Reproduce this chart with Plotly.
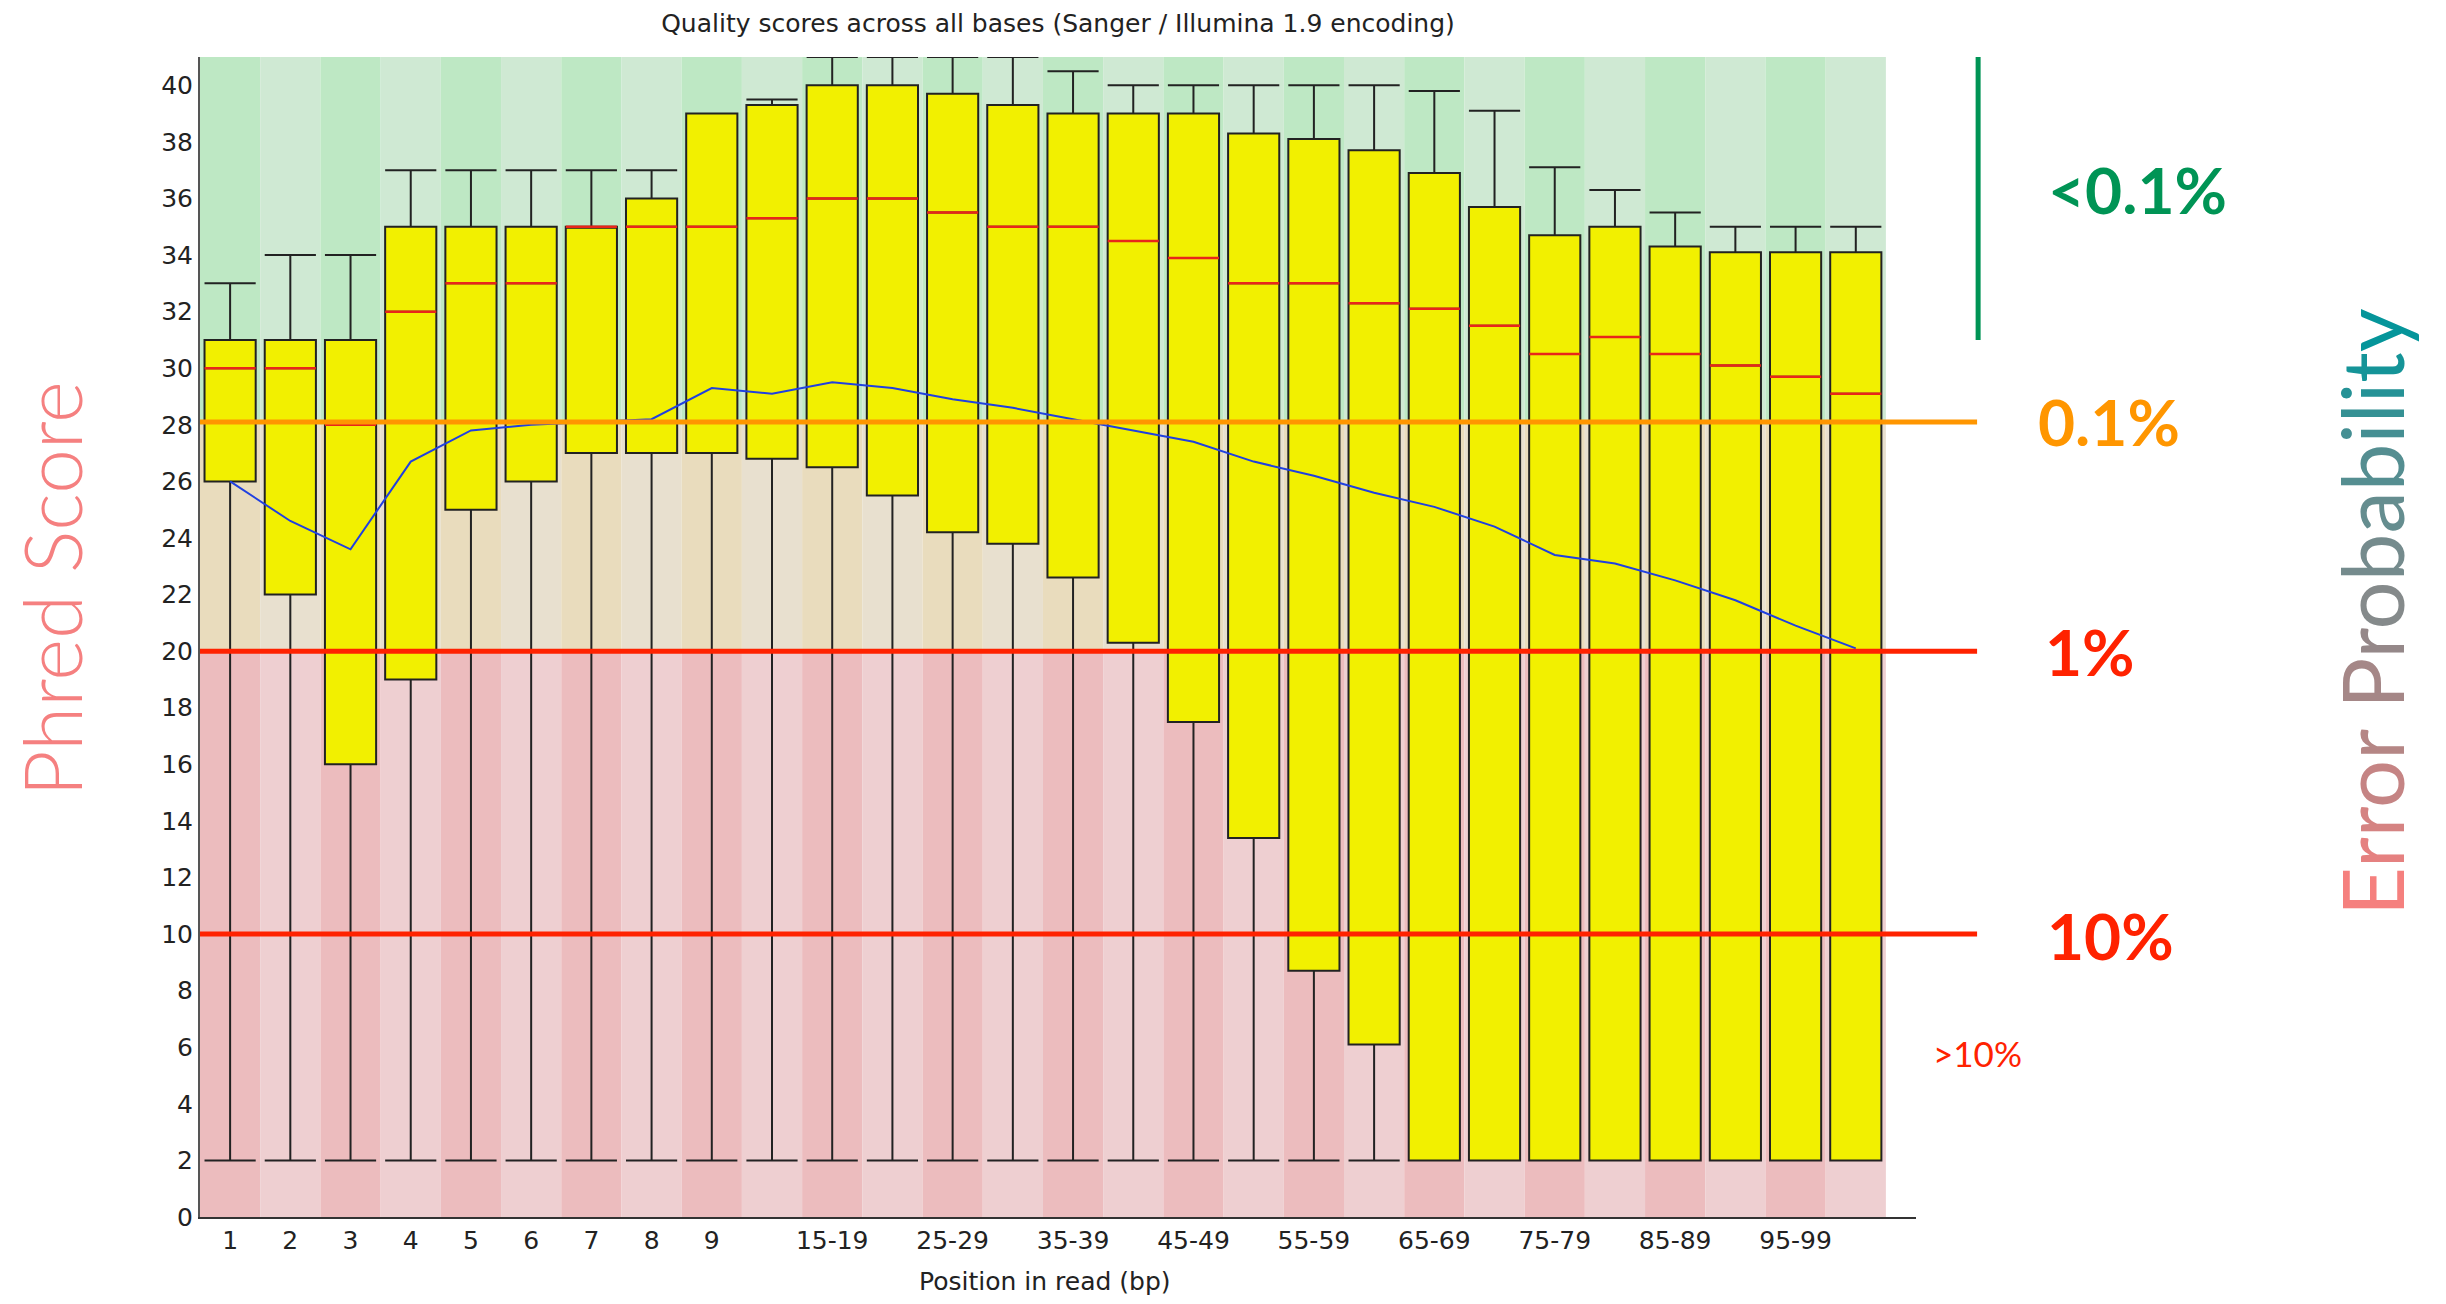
import plotly.graph_objects as go

# ---------------- data ----------------
positions = ["1", "2", "3", "4", "5", "6", "7", "8", "9", "10-14", "15-19", "20-24",
             "25-29", "30-34", "35-39", "40-44", "45-49", "50-54", "55-59", "60-64",
             "65-69", "70-74", "75-79", "80-84", "85-89", "90-94", "95-99", "100-101"]
shown_ticks = ["1", "2", "3", "4", "5", "6", "7", "8", "9", "15-19", "25-29", "35-39",
               "45-49", "55-59", "65-69", "75-79", "85-89", "95-99"]

upper_whisker = [33, 34, 34, 37, 37, 37, 37, 37, 39, 39.5, 41, 41, 41, 41,
                 40.5, 40, 40, 40, 40, 40, 39.8, 39.1, 37.1, 36.3, 35.5, 35, 35, 35]
upper_quartile = [31, 31, 31, 35, 35, 35, 35, 36, 39, 39.3, 40, 40, 39.7, 39.3,
                  39, 39, 39, 38.3, 38.1, 37.7, 36.9, 35.7, 34.7, 35, 34.3, 34.1, 34.1, 34.1]
median = [30, 30, 28, 32, 33, 33, 35, 35, 35, 35.3, 36, 36, 35.5, 35,
          35, 34.5, 33.9, 33, 33, 32.3, 32.1, 31.5, 30.5, 31.1, 30.5, 30.1, 29.7, 29.1]
lower_quartile = [26, 22, 16, 19, 25, 26, 27, 27, 27, 26.8, 26.5, 25.5, 24.2, 23.8,
                  22.6, 20.3, 17.5, 13.4, 8.7, 6.1, 2, 2, 2, 2, 2, 2, 2, 2]
lower_whisker = [2, 2, 2, 2, 2, 2, 2, 2, 2, 2, 2, 2, 2, 2,
                 2, 2, 2, 2, 2, 2, 2, 2, 2, 2, 2, 2, 2, 2]
mean_quality = [26.0, 24.6, 23.6, 26.7, 27.8, 28.0, 28.1, 28.2, 29.3, 29.1, 29.5, 29.3, 28.9, 28.6,
                28.2, 27.8, 27.4, 26.7, 26.2, 25.6, 25.1, 24.4, 23.4, 23.1, 22.5, 21.8, 20.9, 20.1]

zone_bounds = [0, 20, 28, 41]          # red / orange / green background zones
threshold_orange = 28.1
threshold_red = [20, 10]
error_labels = ["<0.1%", "0.1%", "1%", "10%", ">10%"]

# ---------------- styling ----------------
TICK_FONT = "DejaVu Sans, Liberation Sans, sans-serif"
BIG_FONT = "Lato, Open Sans, sans-serif"
zone_colors = [("#ECBCBE", "#EECFD1"), ("#E9DCBD", "#E8E0CF"), ("#BEE8C4", "#CFE9D3")]

fig = go.Figure()

# background alternating bands
for i in range(len(positions)):
    for z in range(3):
        fig.add_shape(type="rect", xref="x", yref="y",
                      x0=i - 0.5, x1=i + 0.5, y0=zone_bounds[z], y1=zone_bounds[z + 1],
                      fillcolor=zone_colors[z][i % 2], line=dict(width=0), layer="below")

fig.add_trace(go.Box(
    x=positions, q1=lower_quartile, median=median, q3=upper_quartile,
    lowerfence=lower_whisker, upperfence=upper_whisker,
    fillcolor="#F2F000", line=dict(color="#222222", width=2),
    width=0.85, whiskerwidth=1, boxpoints=False, showlegend=False, hoverinfo="skip"))

fig.add_trace(go.Scatter(
    x=positions, y=median, mode="markers", showlegend=False, hoverinfo="skip",
    marker=dict(symbol="line-ew", size=36.5, color="#E8261A",
                line=dict(color="#E8261A", width=2.5))))

fig.add_trace(go.Scatter(
    x=positions, y=mean_quality, mode="lines", showlegend=False, hoverinfo="skip",
    line=dict(color="#2040E0", width=2)))

# threshold lines
X_END = 1.0356
fig.add_shape(type="line", xref="paper", yref="y", x0=0, x1=X_END,
              y0=threshold_orange, y1=threshold_orange,
              line=dict(color="#FF9600", width=5))
for t in threshold_red:
    fig.add_shape(type="line", xref="paper", yref="y", x0=0, x1=X_END, y0=t, y1=t,
                  line=dict(color="#FF2200", width=5))
fig.add_shape(type="line", xref="paper", yref="y", x0=1.0362, x1=1.0362, y0=31, y1=41,
              line=dict(color="#009455", width=5))

# right-hand labels
label_specs = [
    (error_labels[0], 1.1288, 36.3, "#009455", 64, 700),
    (error_labels[1], 1.1125, 28.1, "#FF9600", 64, 700),
    (error_labels[2], 1.1014, 20.0, "#FF2200", 64, 700),
    (error_labels[3], 1.1136, 9.95, "#FF2200", 64, 700),
    (error_labels[4], 1.0360, 5.8, "#FF2200", 35, 400),
]
for txt, xp, yv, col, sz, wt in label_specs:
    fig.add_annotation(text=txt, xref="paper", yref="y", x=xp, y=yv,
                       xanchor="center", yanchor="middle", showarrow=False,
                       font=dict(family=BIG_FONT, size=sz, color=col, weight=wt))

# "Error Probability" with colour gradient
word = "Error Probability"
start, end = (245, 128, 126), (5, 149, 154)
letters = [c for c in word if c != " "]
n = len(letters) - 1
parts, k = [], 0
for c in word:
    if c == " ":
        parts.append(" ")
        continue
    t = k / n
    rgb = tuple(round(start[j] + (end[j] - start[j]) * t) for j in range(3))
    parts.append('<span style="color:rgb(%d,%d,%d)">%s</span>' % (rgb + (c,)))
    k += 1
fig.add_annotation(text="".join(parts), xref="paper", yref="paper", x=1.2652, y=0.5216,
                   xanchor="center", yanchor="middle", showarrow=False, textangle=-90,
                   font=dict(family=BIG_FONT, size=85, color="#888888"))

fig.add_annotation(text="Phred Score", xref="paper", yref="paper", x=-0.0868, y=0.541,
                   xanchor="center", yanchor="middle", showarrow=False, textangle=-90,
                   borderpad=0,
                   font=dict(family=BIG_FONT, size=80, color="#F58080", weight=300))

fig.add_annotation(text="Position in read (bp)", xref="paper", yref="paper", x=0.4924, y=-0.056,
                   xanchor="center", yanchor="middle", showarrow=False,
                   font=dict(family=TICK_FONT, size=25, color="#222222"))

fig.update_layout(
    width=2446, height=1304,
    margin=dict(l=200, r=530, t=57, b=87),
    paper_bgcolor="white", plot_bgcolor="white",
    title=dict(text="Quality scores across all bases (Sanger / Illumina 1.9 encoding)",
               xref="paper", x=0.5, xanchor="center", yref="container", y=1 - 23 / 1304,
               yanchor="middle", font=dict(family=TICK_FONT, size=25, color="#222222")),
    xaxis=dict(type="category", categoryorder="array", categoryarray=positions,
               range=[-0.5, 28.0], showgrid=False, zeroline=False,
               showline=True, linecolor="#333333", linewidth=2,
               tickmode="array", tickvals=shown_ticks, ticktext=shown_ticks, ticks="",
               tickfont=dict(family=TICK_FONT, size=25, color="#222222")),
    yaxis=dict(range=[0, 41], tick0=0, dtick=2, showgrid=False, zeroline=False,
               showline=True, linecolor="#555555", linewidth=2, ticks="",
               tickfont=dict(family=TICK_FONT, size=25, color="#222222")),
)

# remove the page's default body margin so the figure sits at the window's top-left
fig.write_html("out.html", config={"displayModeBar": False},
               post_script="document.body.style.margin='0';document.body.style.overflow='hidden';")
